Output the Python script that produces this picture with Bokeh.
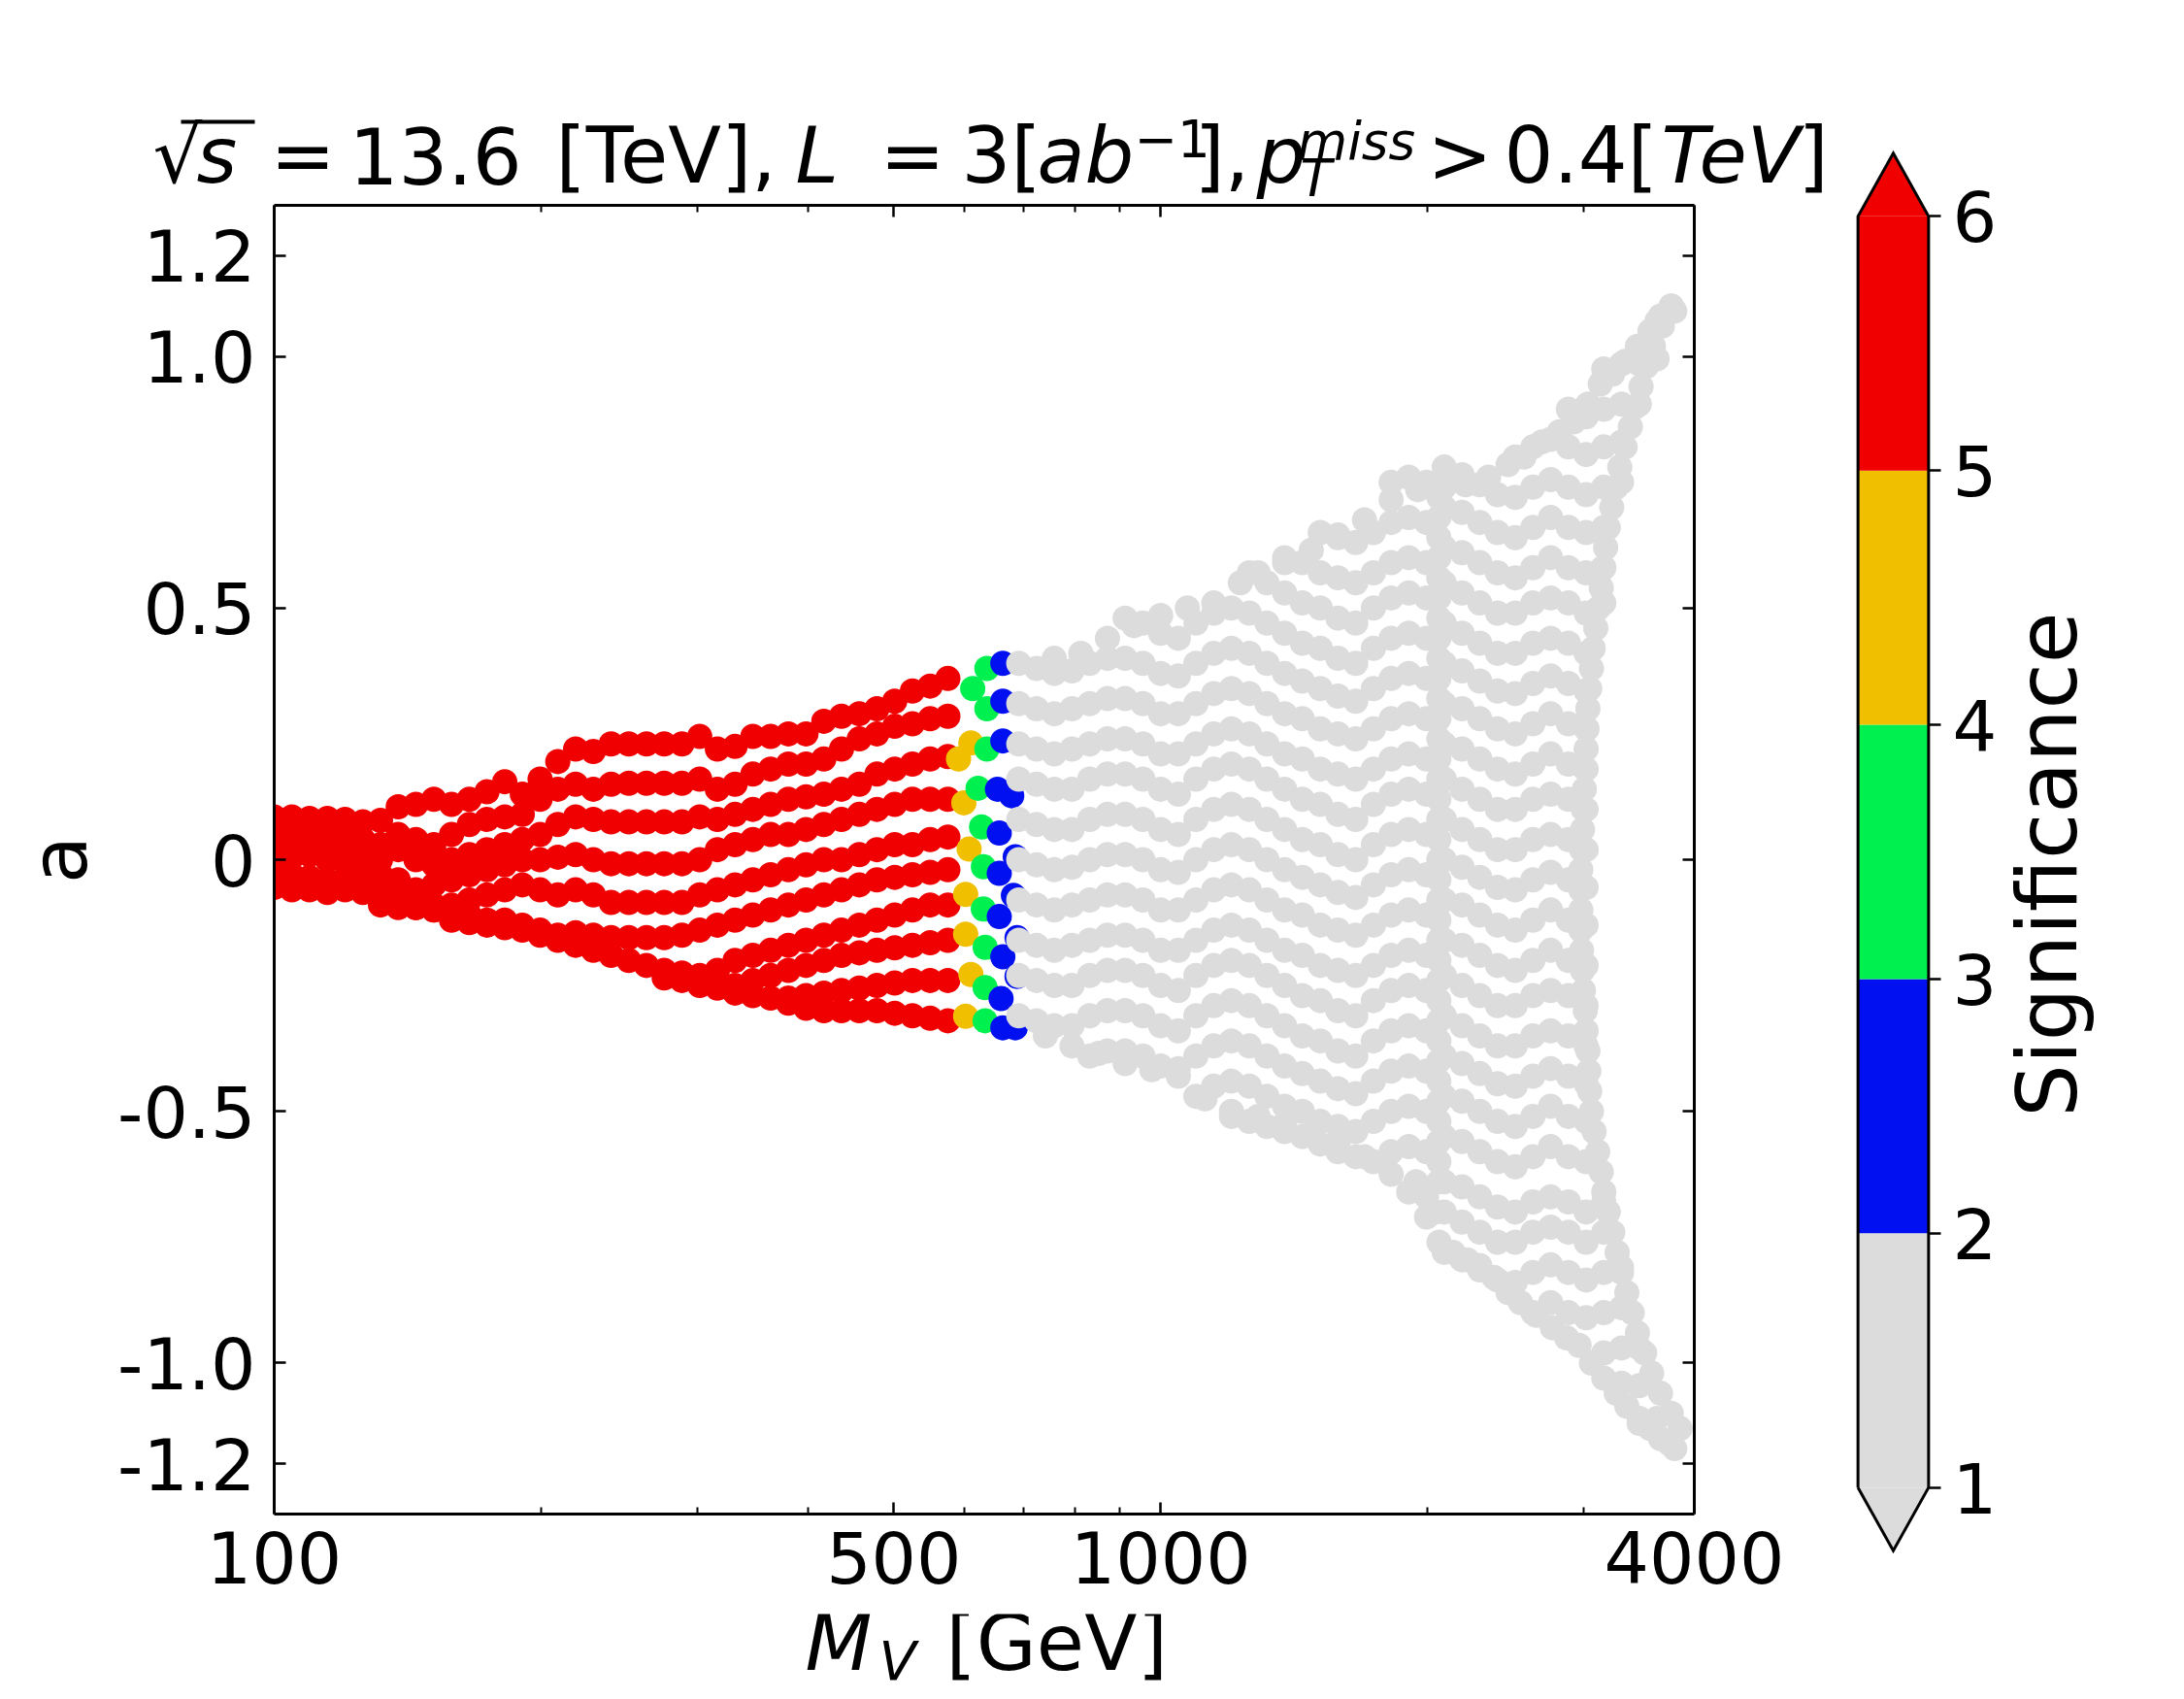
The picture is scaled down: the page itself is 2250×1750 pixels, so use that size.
import math
from bokeh.plotting import figure
from bokeh.models import (ColumnDataSource, FixedTicker, CustomJSTickFormatter, LinearAxis, LogAxis,
                          Label, LinearColorMapper, Range1d)
from bokeh.layouts import row, column
from bokeh.embed import file_html
from bokeh.resources import INLINE

FONT = "DejaVu Sans"

# ---------------- data ----------------
M_grid = [100, 104.7, 109.6, 114.8, 120.2, 125.9, 131.8, 138.0, 144.5, 151.4, 158.5, 166.0, 173.8, 182.0,
          190.5, 199.5, 208.9, 218.8, 229.1, 239.9, 251.2, 263.0, 275.4, 288.4, 302.0, 316.2, 331.1, 346.7,
          363.1, 380.2, 398.1, 416.9, 436.5, 457.1, 478.6, 501.2, 524.8, 549.5, 575.4, 602.6, 631.0, 660.7,
          691.8, 724.4, 758.6, 794.3, 831.8, 871.0, 912.0, 955.0, 1000, 1047, 1096, 1148, 1202, 1259, 1318,
          1380, 1445, 1514, 1585, 1660, 1738, 1820, 1905, 1995, 2089, 2188, 2291, 2399, 2512, 2630, 2754,
          2884, 3020, 3162, 3311, 3467, 3631, 3802, 3981]

red_rows_start = [0, 0, 0, 0, 0, 0, 0, 22, 26, 29]
red_rows_a = [
    [.085, .085, .082, .082, .08, .075, .078, .105, .11, .12, .11, .12, .135, .155, .13, .16, .195, .22, .215,
     .23, .23, .23, .23, .23, .245, .22, .225, .245, .245, .25, .25, .275, .285, .29, .30, .315, .335, .345, .36],
    [.06, .055, .05, .05, .045, .04, .03, .05, .04, .03, .05, .07, .08, .085, .09, .12, .14, .15, .14, .15,
     .152, .152, .152, .152, .16, .14, .15, .17, .18, .19, .19, .20, .22, .24, .25, .265, .27, .28, .285],
    [.03, .03, .025, .02, .02, .01, 0, .02, 0, -.01, 0, .01, .02, .03, .04, .05, .07, .085, .08, .075, .075,
     .075, .075, .075, .085, .08, .09, .10, .11, .12, .125, .13, .14, .15, .17, .18, .19, .20, .205],
    [0, .005, .01, 0, -.005, -.01, -.03, -.04, -.06, -.05, -.04, -.03, -.02, -.01, 0, 0, .005, .01, 0, -.008,
     -.008, -.008, -.008, -.008, 0, .02, .03, .04, .05, .05, .06, .07, .08, .09, .10, .11, .12, .12, .12],
    [-.02, -.03, -.035, -.04, -.04, -.05, -.07, -.08, -.08, -.09, -.09, -.08, -.07, -.06, -.05, -.06, -.07,
     -.06, -.07, -.085, -.085, -.085, -.085, -.085, -.07, -.06, -.05, -.04, -.03, -.02, -.01, 0, 0, .01, .02,
     .03, .03, .04, .045],
    [-.04, -.045, -.05, -.05, -.055, -.06, -.08, -.09, -.095, -.10, -.11, -.11, -.12, -.12, -.13, -.14, -.15,
     -.145, -.15, -.155, -.155, -.155, -.155, -.15, -.14, -.13, -.12, -.11, -.10, -.09, -.08, -.07, -.06,
     -.05, -.04, -.035, -.03, -.025, -.02],
    [-.055, -.06, -.06, -.065, -.06, -.065, -.09, -.095, -.095, -.10, -.12, -.125, -.13, -.135, -.14, -.15,
     -.16, -.17, -.18, -.19, -.20, -.21, -.22, -.225, -.23, -.22, -.20, -.19, -.18, -.17, -.16, -.15, -.14,
     -.13, -.12, -.11, -.10, -.09, -.09],
    [-.235, -.24, -.25, -.255, -.25, -.24, -.23, -.22, -.21, -.20, -.19, -.185, -.18, -.175, -.17, -.165, -.16],
    [-.265, -.27, -.275, -.275, -.27, -.265, -.26, -.255, -.25, -.245, -.24, -.24, -.24],
    [-.285, -.295, -.30, -.30, -.30, -.30, -.305, -.31, -.315, -.32],
]
red_sig = 5.5

edge_M = [613.8, 636.8, 663.7, 636.8, 663.7, 591.6, 610.9, 636.8, 663.7, 599.8, 622.3, 654.6, 679.2, 628.1,
          657.6, 608.1, 685.5, 631.0, 657.6, 602.6, 631.0, 657.6, 682.3, 602.6, 633.9, 663.7, 688.7, 610.9,
          633.9, 660.7, 688.7, 602.6, 633.9, 663.7, 685.5]
edge_a = [0.34, 0.38, 0.39, 0.30, 0.315, 0.20, 0.232, 0.22, 0.236, 0.113, 0.142, 0.14, 0.127, 0.065, 0.053,
          0.021, 0.006, -0.014, -0.027, -0.069, -0.098, -0.113, -0.071, -0.148, -0.174, -0.193, -0.155, -0.228,
          -0.254, -0.276, -0.232, -0.311, -0.32, -0.334, -0.334]
edge_sig = [3.5, 3.5, 2.5, 3.5, 2.5, 4.5, 4.5, 3.5, 2.5, 4.5, 3.5, 2.5, 2.5, 3.5, 2.5, 4.5, 2.5, 3.5, 2.5, 4.5,
            3.5, 2.5, 2.5, 4.5, 3.5, 2.5, 2.5, 4.5, 3.5, 2.5, 2.5, 4.5, 3.5, 2.5, 2.5]

gray_rows_start = [78, 75, 73, 70, 63, 59, 57, 55, 48, 42, 42, 42, 42, 42, 42, 42, 42, 42, 42,
                   46, 52, 54, 64, 65, 66, 71, 75, 76, 77, 79]
gray_rows_a = [
    [1.07, 1.09],
    [.975, .985, .985, .995],
    [.895, .88, .895, .905, .905],
    [.80, .82, .835, .82, .805, .82, .83],
    [.75, .76, .75, .78, .765, .745, .725, .72, .74, .755, .74, .725, .74, .75],
    [.65, .64, .63, .65, .67, .68, .67, .70, .69, .67, .65, .64, .66, .68, .66, .65, .66],
    [.60, .59, .57, .56, .55, .57, .59, .60, .59, .62, .61, .59, .57, .56, .58, .60, .58, .57, .58],
    [.57, .55, .53, .51, .50, .48, .47, .50, .52, .53, .52, .55, .53, .51, .49, .49, .51, .52, .51, .49, .51],
    [.48, .47, .45, .44, .47, .49, .50, .49, .47, .45, .43, .42, .40, .39, .42, .44, .45, .44, .47, .45, .43,
     .41, .41, .43, .44, .43, .41],
    [.39, .38, .37, .375, .39, .40, .40, .39, .37, .365, .39, .41, .42, .41, .39, .37, .355, .34, .325, .315,
     .34, .36, .37, .36, .39, .375, .355, .335, .33, .35, .365, .35, .335],
    [.31, .30, .29, .30, .31, .32, .32, .31, .29, .29, .31, .33, .34, .33, .31, .29, .28, .26, .25, .24, .26,
     .28, .29, .28, .31, .30, .28, .26, .25, .27, .29, .27, .26],
    [.23, .22, .21, .22, .23, .24, .24, .23, .21, .21, .23, .25, .26, .25, .23, .21, .20, .18, .17, .16, .18,
     .20, .21, .20, .23, .22, .20, .18, .17, .19, .21, .19, .18],
    [.16, .15, .14, .14, .16, .17, .17, .16, .14, .13, .16, .18, .19, .18, .16, .14, .12, .11, .09, .08, .11,
     .13, .14, .13, .16, .14, .12, .10, .10, .12, .13, .12, .10],
    [.08, .07, .06, .06, .08, .09, .09, .08, .06, .05, .08, .10, .11, .10, .08, .06, .04, .03, .01, 0, .03,
     .05, .06, .05, .08, .06, .04, .02, .02, .04, .05, .04, .02],
    [0, -.01, -.02, -.015, 0, .01, .01, 0, -.02, -.025, 0, .02, .03, .02, 0, -.02, -.035, -.05, -.065, -.075,
     -.05, -.03, -.02, -.03, 0, -.015, -.035, -.055, -.06, -.04, -.025, -.04, -.055],
    [-.08, -.09, -.10, -.09, -.08, -.07, -.07, -.08, -.10, -.10, -.08, -.06, -.05, -.06, -.08, -.10, -.11,
     -.13, -.14, -.15, -.13, -.11, -.10, -.11, -.08, -.09, -.11, -.13, -.14, -.12, -.10, -.12, -.13],
    [-.16, -.17, -.18, -.17, -.16, -.15, -.15, -.16, -.18, -.18, -.16, -.14, -.13, -.14, -.16, -.18, -.19,
     -.21, -.22, -.23, -.21, -.19, -.18, -.19, -.16, -.17, -.19, -.21, -.22, -.20, -.18, -.20, -.21],
    [-.23, -.24, -.25, -.25, -.23, -.22, -.22, -.23, -.25, -.26, -.23, -.21, -.20, -.21, -.23, -.25, -.27,
     -.28, -.30, -.31, -.28, -.26, -.25, -.26, -.23, -.25, -.27, -.29, -.29, -.27, -.26, -.27, -.29],
    [-.31, -.32, -.33, -.33, -.31, -.30, -.30, -.31, -.33, -.34, -.31, -.29, -.28, -.29, -.31, -.33, -.35,
     -.36, -.38, -.39, -.36, -.34, -.33, -.34, -.31, -.33, -.35, -.37, -.37, -.35, -.34, -.35, -.37],
    [-.39, -.38, -.38, -.39, -.41, -.415, -.39, -.37, -.36, -.37, -.39, -.41, -.425, -.44, -.455, -.465, -.44,
     -.42, -.41, -.42, -.39, -.405, -.425, -.445, -.45, -.43, -.415, -.43, -.445],
    [-.47, -.45, -.44, -.45, -.47, -.49, -.50, -.52, -.53, -.54, -.52, -.50, -.49, -.50, -.47, -.48, -.50,
     -.52, -.53, -.51, -.49, -.51, -.52],
    [-.51, -.52, -.53, -.54, -.55, -.565, -.58, -.59, -.60, -.58, -.57, -.58, -.55, -.56, -.58, -.60, -.61,
     -.59, -.57, -.59, -.60],
    [-.66, -.67, -.64, -.65, -.67, -.69, -.70, -.68, -.67, -.68, -.70, -.68],
    [-.71, -.70, -.72, -.74, -.76, -.76, -.74, -.73, -.74, -.76, -.74],
    [-.78, -.795, -.815, -.835, -.84, -.82, -.805, -.82, -.835, -.82, -.81],
    [-.90, -.88, -.90, -.91, -.90, -.89],
    [-.98, -.97, -.97],
    [-1.04, -1.045],
    [-1.12, -1.11],
    [-1.17],
]
gray_sig = 1.5

column_M = 2060
column_a = [0.72, 0.68, 0.64, 0.60, 0.56, 0.52, 0.48, 0.44, 0.40, 0.36, 0.32, 0.28, 0.24, 0.20, 0.16, 0.12,
            0.08, 0.04, 0.0, -0.04, -0.08, -0.12, -0.16, -0.20, -0.24, -0.28, -0.32, -0.36, -0.40, -0.44,
            -0.48, -0.52, -0.56, -0.60, -0.64]

bound_M = [3767, 3681, 3597, 3532, 3483, 3436, 3388, 3342, 3296, 3266, 3228, 3199, 3177, 3155, 3141, 3119,
           3097, 3076, 3062, 3048, 3034, 3027, 3020, 3013, 3006, 2999, 2992, 2985, 2979, 2979, 2979, 2979,
           2985, 2992, 2999, 3013, 3020, 3034, 3041, 3048, 3062, 3083, 3112, 3141, 3162, 3199, 3236, 3274,
           3311, 3357, 3404, 3451, 3516, 3581, 3664, 3767, 3855]
bound_a = [1.10, 1.06, 1.02, 0.98, 0.94, 0.90, 0.86, 0.82, 0.78, 0.74, 0.70, 0.66, 0.62, 0.58, 0.54, 0.50,
           0.46, 0.42, 0.38, 0.34, 0.30, 0.26, 0.22, 0.18, 0.14, 0.10, 0.06, 0.02, -0.02, -0.06, -0.10, -0.14,
           -0.18, -0.22, -0.26, -0.30, -0.34, -0.38, -0.42, -0.46, -0.50, -0.54, -0.58, -0.62, -0.66, -0.70,
           -0.74, -0.78, -0.82, -0.86, -0.90, -0.94, -0.98, -1.02, -1.06, -1.10, -1.13]

upper_M = [758.6, 812.8, 871.0, 933.3, 1000, 1072, 1148, 1230, 1288, 1380, 1479, 1585, 1698, 1820, 1950,
           2089, 2208, 2344, 2466, 2570, 2692, 2818, 2924, 3034, 3133, 3236, 3342, 3451, 3565, 3664, 3767]
upper_a = [.40, .41, .44, .465, .485, .50, .51, .55, .57, .59, .615, .645, .675, .715, .735, .74, .745, .76,
           .785, .80, .83, .85, .87, .905, .945, .965, .99, 1.02, 1.05, 1.08, 1.10]
lower_M = [741.3, 794.3, 851.1, 912.0, 977.2, 1047, 1122, 1202, 1288, 1380, 1479, 1585, 1698, 1820, 1941,
           2042, 2061, 2138, 2218, 2291, 2377, 2466, 2547, 2655, 2767, 2871, 2965, 3062, 3162, 3266, 3357,
           3467, 3565, 3664, 3750]
lower_a = [-.35, -.37, -.385, -.405, -.417, -.43, -.475, -.50, -.51, -.525, -.545, -.565, -.59, -.625, -.64,
           -.70, -.76, -.78, -.795, -.806, -.83, -.86, -.88, -.905, -.93, -.95, -.965, -1.0, -1.03, -1.06,
           -1.086, -1.11, -1.13, -1.15, -1.16]

cbar_bounds = [1, 2, 3, 4, 5, 6]
cbar_colors = ["#dcdcdc", "#0010f0", "#00f050", "#f0c000", "#f00000"]

x_major = [100, 500, 1000, 4000]
x_minor = [200, 300, 400, 600, 700, 800, 900, 2000, 3000]
y_major = [-1.2, -1.0, -0.5, 0.0, 0.5, 1.0, 1.2]

# ---------------- assemble points ----------------
pts = []
for st, vals in zip(red_rows_start, red_rows_a):
    for i, v in enumerate(vals):
        pts.append((M_grid[st + i], v, red_sig))
for m, v, s in zip(edge_M, edge_a, edge_sig):
    pts.append((m, v, s))
for st, vals in zip(gray_rows_start, gray_rows_a):
    for i, v in enumerate(vals):
        pts.append((M_grid[st + i], v, gray_sig))
for v in column_a:
    pts.append((column_M, v, gray_sig))
for m, v in zip(bound_M, bound_a):
    pts.append((m, v, gray_sig))
for m, v in zip(upper_M, upper_a):
    pts.append((m, v, gray_sig))
for m, v in zip(lower_M, lower_a):
    pts.append((m, v, gray_sig))
pts.sort(key=lambda t: t[0])
src = ColumnDataSource(dict(M=[t[0] for t in pts], a=[t[1] for t in pts], sig=[t[2] for t in pts]))
mapper = LinearColorMapper(palette=cbar_colors, low=cbar_bounds[0], high=cbar_bounds[-1])

LEFT_W = 1878
TOTAL_H = 1734
TITLE_H = 208
XLAB_TOP = 1662
XLAB_H = TOTAL_H - XLAB_TOP
MAIN_H = XLAB_TOP - TITLE_H
BASE_FIX = 0.38   # vertical correction of the text anchor (fraction of font size)


def blank(w, h):
    f = figure(width=w, height=h, x_range=Range1d(0, w), y_range=Range1d(0, h), output_backend="svg",
               toolbar_location=None, x_axis_location=None, y_axis_location=None,
               min_border_left=0, min_border_right=0, min_border_top=0, min_border_bottom=0,
               frame_align=False)
    f.grid.visible = False
    f.outline_line_color = None
    return f


def lab(fig, x, y, text, size, italic=False, angle=0.0, align="left"):
    if angle:
        x = x - BASE_FIX * size
    else:
        y = y + BASE_FIX * size
    fig.add_layout(Label(x=x, y=y, text=text, text_font=FONT, text_font_size=f"{size}px",
                         text_font_style="italic" if italic else "normal", angle=angle,
                         text_align=align, text_baseline="alphabetic", text_color="black"))


# ---------------- title strip ----------------
tf = blank(LEFT_W, TITLE_H)
TB = TITLE_H - 190
lab(tf, 157, TB, "√", 80)
lab(tf, 202, TB, "s", 80, italic=True)
tf.segment(x0=[186], y0=[TITLE_H - 125], x1=[262], y1=[TITLE_H - 125], line_color="black", line_width=4)
lab(tf, 278, TB, "=", 80)
lab(tf, 359, TB, "13.6", 80)
lab(tf, 572, TB, "[TeV],", 80)
lab(tf, 819, TB, "L", 80, italic=True)
lab(tf, 906, TB, "=", 80)
lab(tf, 990, TB, "3[", 80)
lab(tf, 1068, TB, "ab", 80, italic=True)
lab(tf, 1168, TITLE_H - 162, "−1", 53)
lab(tf, 1230, TB, "],", 80)
lab(tf, 1294, TB, "p", 80, italic=True)
lab(tf, 1336, TITLE_H - 165, "miss", 53, italic=True)
lab(tf, 1339, TITLE_H - 203, "T", 53, italic=True)
lab(tf, 1470, TB, ">", 80)
lab(tf, 1549, TB, "0.4[", 80)
lab(tf, 1711, TB, "TeV", 80, italic=True)
lab(tf, 1852, TB, "]", 80)

# ---------------- main plot ----------------
p = figure(width=LEFT_W, height=MAIN_H, x_axis_type="log", x_range=Range1d(100, 4000),
           y_range=Range1d(-1.3, 1.3), output_backend="svg", toolbar_location=None,
           min_border_left=282, min_border_right=LEFT_W - 1745, min_border_top=3,
           min_border_bottom=XLAB_TOP - 1559, frame_align=False)
p.grid.visible = False
p.outline_line_color = None
p.scatter("M", "a", source=src, size=26, marker="circle",
          fill_color={"field": "sig", "transform": mapper}, line_color=None)

bottom_ax = p.below[0]
left_ax = p.left[0]
xt = FixedTicker(ticks=x_major, minor_ticks=x_minor)
yt = FixedTicker(ticks=y_major, minor_ticks=[])
bottom_ax.ticker = xt
bottom_ax.formatter = CustomJSTickFormatter(code="return tick.toFixed(0);")
left_ax.ticker = yt
left_ax.formatter = CustomJSTickFormatter(code="return Math.abs(tick) < 1e-9 ? '0' : tick.toFixed(1);")
top_ax = LogAxis(ticker=xt, formatter=CustomJSTickFormatter(code="return '';"))
right_ax = LinearAxis(ticker=yt, formatter=CustomJSTickFormatter(code="return '';"))
p.add_layout(top_ax, "above")
p.add_layout(right_ax, "right")
for ax in [bottom_ax, left_ax, top_ax, right_ax]:
    ax.axis_line_width = 3
    ax.axis_line_color = "black"
    ax.major_tick_in = 12
    ax.major_tick_out = 0
    ax.major_tick_line_width = 2.5
    ax.minor_tick_in = 7
    ax.minor_tick_out = 0
    ax.minor_tick_line_width = 2
    ax.major_label_text_font = FONT
    ax.major_label_text_font_size = "73px"
    ax.major_label_text_color = "black"
for ax in [top_ax, right_ax]:
    ax.major_label_text_font_size = "0px"
    ax.major_label_standoff = 0
bottom_ax.major_label_standoff = 17
left_ax.major_label_standoff = 19
left_ax.axis_label = "a"
left_ax.axis_label_text_font = FONT
left_ax.axis_label_text_font_size = "80px"
left_ax.axis_label_text_font_style = "normal"
left_ax.axis_label_text_color = "black"
left_ax.axis_label_standoff = 10

# ---------------- x label strip ----------------
xf = blank(LEFT_W, XLAB_H)
lab(xf, 829, TOTAL_H - 1722, "M", 80, italic=True)
lab(xf, 905, TOTAL_H - 1731, "V", 56, italic=True)
lab(xf, 974, TOTAL_H - 1722, "[GeV]", 80)

# ---------------- colour bar ----------------
ext = 0.248
CB_W = 2062 - LEFT_W
cb = figure(width=CB_W, height=TOTAL_H, x_range=Range1d(-0.05, 1.05), y_range=Range1d(0.72, 6.28),
            output_backend="svg", toolbar_location=None, x_axis_location=None, y_axis_location="right",
            min_border_left=1910 - LEFT_W, min_border_right=CB_W - (1910 - LEFT_W) - 80,
            min_border_top=149, min_border_bottom=129, frame_align=False)
cb.grid.visible = False
cb.outline_line_color = None
cb.quad(left=0, right=1, bottom=cbar_bounds[:-1], top=cbar_bounds[1:], fill_color=cbar_colors, line_color=None)
lo_b, hi_b = cbar_bounds[0], cbar_bounds[-1]
cb.patch(x=[0, 0.5, 1], y=[hi_b, hi_b + ext, hi_b], fill_color=cbar_colors[-1], line_color=None)
cb.patch(x=[0, 0.5, 1], y=[lo_b, lo_b - ext, lo_b], fill_color=cbar_colors[0], line_color=None)
cb.line(x=[0, 0, 0.5, 1, 1, 0.5, 0], y=[lo_b, hi_b, hi_b + ext, hi_b, lo_b, lo_b - ext, lo_b],
        line_color="black", line_width=3, line_join="miter")
cax = cb.right[0]
cax.ticker = FixedTicker(ticks=cbar_bounds, minor_ticks=[])
cax.formatter = CustomJSTickFormatter(code="return tick.toFixed(0);")
cax.axis_line_color = None
cax.major_tick_in = 3
cax.major_tick_out = 9
cax.major_tick_line_width = 2.5
cax.minor_tick_line_color = None
cax.major_label_text_font = FONT
cax.major_label_text_font_size = "72px"
cax.major_label_text_color = "black"
cax.major_label_standoff = 12

sf = blank(2234 - 2062, TOTAL_H)
lab(sf, 2141 - 2062, TOTAL_H - 890, "Significance", 86, angle=math.pi / 2, align="center")

layout = row(column(tf, p, xf), cb, sf)
open("out.html", "w").write(file_html(layout, INLINE, title="significance scan"))
